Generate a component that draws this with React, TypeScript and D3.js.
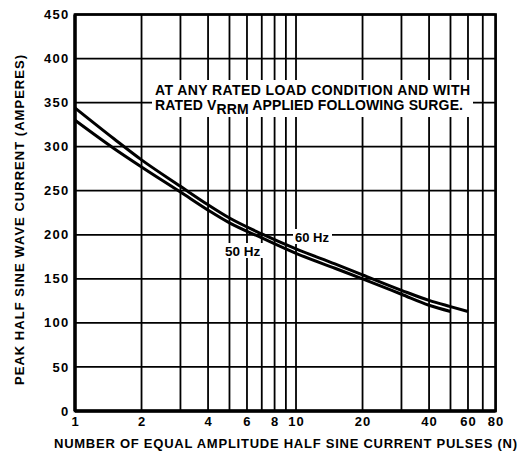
import React from "react";
import * as d3 from "d3";

const pulses60 = [1, 1.5, 2, 3, 4, 5, 7, 10, 15, 20, 30, 40, 50, 60];
const amps60 = [344, 309, 285, 255, 234, 219, 201, 184, 167, 154.5, 137, 125.5, 118.5, 113];
const pulses50 = [1, 1.5, 2, 3, 4, 5, 7, 10, 15, 20, 30, 40, 50];
const amps50 = [330, 298, 277, 248.5, 228, 213.5, 196.5, 179, 162, 150, 132.5, 120, 113];

const xGrid = [1, 2, 3, 4, 5, 6, 7, 8, 9, 10, 20, 30, 40, 50, 60, 70, 80];
const xTickLabels = [1, 2, 4, 6, 8, 10, 20, 40, 60, 80];
const yTicks = [0, 50, 100, 150, 200, 250, 300, 350, 400, 450];

const xTitle = "NUMBER OF EQUAL AMPLITUDE HALF SINE CURRENT PULSES (N)";
const yTitle = "PEAK HALF SINE WAVE CURRENT (AMPERES)";
const note1 = "AT ANY RATED LOAD CONDITION AND WITH";
const label60 = "60 Hz";
const label50 = "50 Hz";

const W = 521;
const H = 465;
const L = 75, R = 495.6, T = 14.5, B = 411;
const FONT = "'Liberation Sans', Arial, Helvetica, sans-serif";

export default function App() {
  const x = d3.scaleLog().domain([1, 80]).range([L, R]);
  const y = d3.scaleLinear().domain([0, 450]).range([B, T]);
  const line = d3
    .line<[number, number]>()
    .x((d) => x(d[0]))
    .y((d) => y(d[1]))
    .curve(d3.curveMonotoneX);
  const d60 = line(pulses60.map((p, i) => [p, amps60[i]]) as [number, number][]) || "";
  const d50 = line(pulses50.map((p, i) => [p, amps50[i]]) as [number, number][]) || "";

  return (
    <svg
      width={W}
      height={H}
      style={{ position: "absolute", left: 0, top: 0, background: "#fff" }}
      fontFamily={FONT}
      fontWeight="bold"
    >
      <rect x={0} y={0} width={W} height={H} fill="#fff" />
      {/* grid */}
      {xGrid.map((v) => (
        <line key={"gx" + v} x1={x(v)} x2={x(v)} y1={T} y2={B} stroke="#000" strokeWidth={1.8} />
      ))}
      {yTicks.map((v) => (
        <line key={"gy" + v} x1={L} x2={R} y1={y(v)} y2={y(v)} stroke="#000" strokeWidth={1.8} />
      ))}
      {/* annotation background */}
      <rect x={152} y={80} width={321} height={37} fill="#fff" />
      <text x={155} y={95} fontSize={14} fill="#000" textLength={315} lengthAdjust="spacing">
        {note1}
      </text>
      <text x={155} y={109.5} fontSize={14} fill="#000" textLength={308} lengthAdjust="spacing">
        RATED V<tspan dy={4}>RRM</tspan>
        <tspan dy={-4}> APPLIED FOLLOWING SURGE.</tspan>
      </text>
      {/* curves */}
      <path d={d60} fill="none" stroke="#000" strokeWidth={3} />
      <path d={d50} fill="none" stroke="#000" strokeWidth={3} />
      {/* curve labels */}
      <rect x={293} y={229} width={39} height={15} fill="#fff" />
      <text x={295} y={242} fontSize={13} fill="#000">
        {label60}
      </text>
      <rect x={223} y={243} width={41} height={15} fill="#fff" />
      <text x={225} y={255.5} fontSize={13.5} fill="#000">
        {label50}
      </text>
      {/* frame */}
      <rect x={L} y={T} width={R - L} height={B - T} fill="none" stroke="#000" strokeWidth={2.6} />
      <line x1={L} x2={R} y1={B} y2={B} stroke="#000" strokeWidth={3.4} />
      <line x1={L} x2={L} y1={T} y2={B} stroke="#000" strokeWidth={3.4} />
      {/* y tick labels */}
      {yTicks.map((v) => (
        <text
          key={"yl" + v}
          x={69.5}
          y={y(v) + 4.6}
          fontSize={13}
          textAnchor="end"
          fill="#000"
          letterSpacing={1.3}
        >
          {v}
        </text>
      ))}
      {/* x tick labels */}
      {xTickLabels.map((v) => (
        <text
          key={"xl" + v}
          x={x(v) + 0.5}
          y={426}
          fontSize={13}
          textAnchor="middle"
          fill="#000"
          letterSpacing={1}
        >
          {v}
        </text>
      ))}
      {/* axis titles */}
      <text x={54} y={448} fontSize={13} fill="#000" textLength={463} lengthAdjust="spacing">
        {xTitle}
      </text>
      <text
        transform={`translate(24, ${220}) rotate(-90)`}
        x={0}
        y={0}
        fontSize={13}
        textAnchor="middle"
        fill="#000"
        textLength={330}
        lengthAdjust="spacing"
      >
        {yTitle}
      </text>
    </svg>
  );
}
